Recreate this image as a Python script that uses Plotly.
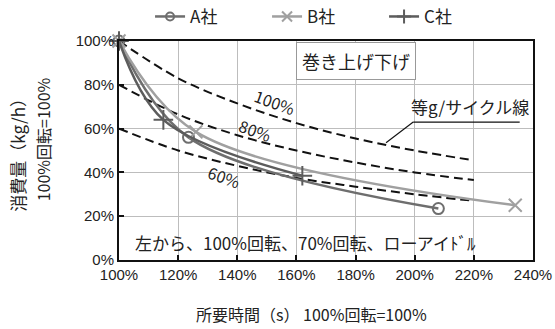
import plotly.graph_objects as go

# Series data (x: 所要時間 %, y: 消費量 %)
a_x = [100, 123.5, 208]
a_y = [100, 56, 23.5]
b_x = [100, 126, 234]
b_y = [100, 58.5, 25]
c_x = [100, 115, 162]
c_y = [100, 64, 38.5]

# 等g/サイクル線
iso_x = [100, 120, 140, 160, 180, 200, 220]
iso_100 = [100, 83, 71.5, 62.5, 55.5, 50, 45.5]
iso_80 = [80, 66.5, 57, 50, 44.5, 40, 36.5]
iso_60 = [60, 50, 43, 37.5, 33.5, 30, 27]

x_ticks = [100, 120, 140, 160, 180, 200, 220, 240]
y_ticks = [0, 20, 40, 60, 80, 100]

FONT = "Noto Sans CJK JP"
NUM = "Liberation Sans"

fig = go.Figure()
for ys in (iso_100, iso_80, iso_60):
    fig.add_trace(go.Scatter(x=iso_x, y=ys, mode="lines", showlegend=False,
                             line=dict(color="#111111", width=2, dash="9px,5px", shape="spline"),
                             hoverinfo="skip"))

series = [
    ("A社", a_x, a_y, "#6e6e6e", "circle-open", 11, 8),
    ("B社", b_x, b_y, "#a0a0a0", "x-thin-open", 13, 10),
    ("C社", c_x, c_y, "#5c5c5c", "cross-thin-open", 14, 10),
]
for name, xs, ys, col, sym, sz, lsz in series:
    fig.add_trace(go.Scatter(x=xs, y=ys, name=name, mode="lines+markers", cliponaxis=False,
                             showlegend=False,
                             line=dict(color=col, width=2.5, shape="spline", smoothing=1.0),
                             marker=dict(symbol=sym, size=sz, color=col,
                                         line=dict(color=col, width=2))))
    # legend entry with smaller marker
    fig.add_trace(go.Scatter(x=[None], y=[None], name=name, mode="lines+markers",
                             line=dict(color=col, width=2.5),
                             marker=dict(symbol=sym, size=lsz, color=col,
                                         line=dict(color=col, width=2))))

fig.update_layout(
    width=555, height=329,
    margin=dict(l=119, r=22, t=41, b=69, autoexpand=False),
    paper_bgcolor="white", plot_bgcolor="white",
    font=dict(family=FONT, color="#222222", size=14),
    legend=dict(orientation="h", x=0.075, xanchor="left", y=1.11, yanchor="middle",
                font=dict(size=17, family=FONT), entrywidth=72, entrywidthmode="pixels",
                bgcolor="rgba(0,0,0,0)"),
    xaxis=dict(range=[100, 240], tickvals=x_ticks, ticktext=[f"{v}%" for v in x_ticks],
               showgrid=True, gridcolor="#bdbdbd", gridwidth=1,
               showline=True, linecolor="#111111", linewidth=2, mirror=True,
               ticks="inside", ticklen=5, tickcolor="#111111", tickwidth=1.5,
               tickfont=dict(family=NUM, size=15, color="#222222"), zeroline=False),
    yaxis=dict(range=[0, 100], tickvals=y_ticks, ticktext=[f"{v}%" for v in y_ticks],
               showgrid=True, gridcolor="#bdbdbd", gridwidth=1,
               showline=True, linecolor="#111111", linewidth=2, mirror=True,
               ticks="inside", ticklen=5, tickcolor="#111111", tickwidth=1.5,
               tickfont=dict(family=NUM, size=15, color="#222222"), zeroline=False),
)

ann = [
    dict(x=0.464, y=-0.245, xref="paper", yref="paper", text="所要時間（s） 100%回転=100%",
         showarrow=False, font=dict(size=16), xanchor="center", yanchor="middle"),
    dict(x=-0.246, y=0.50, xref="paper", yref="paper", text="消費量（kg/h）", textangle=-90,
         showarrow=False, font=dict(size=17, color="#222222"), xanchor="center", yanchor="middle"),
    dict(x=-0.184, y=0.55, xref="paper", yref="paper", text="100%回転=100%", textangle=-90,
         showarrow=False, font=dict(size=16), xanchor="center", yanchor="middle"),
    dict(x=180, y=91, text="巻き上げ下げ", showarrow=False, font=dict(size=18),
         bordercolor="#999999", borderwidth=1, borderpad=5, bgcolor="white"),
    dict(x=152.8, y=72, text="100%", textangle=20, showarrow=False, font=dict(size=16)),
    dict(x=146, y=59.4, text="80%", textangle=20, showarrow=False, font=dict(size=16)),
    dict(x=135.8, y=38, text="60%", textangle=20, showarrow=False, font=dict(size=16)),
    dict(x=218.7, y=70, text="等g/サイクル線", showarrow=False, font=dict(size=17)),
    dict(x=104.8, y=8, text="左から、100%回転、70%回転、ローアイﾄﾞﾙ", showarrow=False,
         font=dict(size=17), xanchor="left", yanchor="middle"),
]
fig.update_layout(annotations=ann)

fig.add_shape(type="line", x0=199.5, y0=63, x1=235.5, y1=63,
              line=dict(color="#111111", width=1.2))
fig.add_shape(type="line", x0=199.5, y0=63, x1=190.3, y1=53.5,
              line=dict(color="#111111", width=1.2))

fig.write_html("out.html")
